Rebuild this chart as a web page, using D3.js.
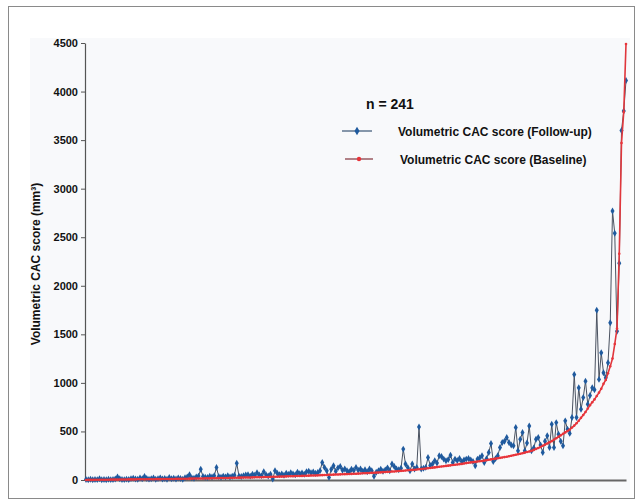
<!DOCTYPE html>
<html>
<head>
<meta charset="utf-8">
<script src="https://cdn.jsdelivr.net/npm/d3@7"></script>
<style>
  body { margin: 0; background: #fff; }
  text { font-family: "Liberation Sans", Arial, sans-serif; font-weight: bold; fill: #111; }
</style>
</head>
<body>
<div id="chart-area"></div>
<script>
var width = 641;
var height = 502;

// patients sorted by baseline score (index 0..240)
var baseline = [
  0, 1, 1, 1, 2, 2, 2, 3, 3, 3,
  3, 4, 4, 4, 4, 5, 5, 5, 5, 6,
  6, 6, 6, 7, 7, 7, 7, 8, 8, 8,
  8, 9, 9, 9, 10, 10, 10, 11, 11, 11,
  12, 12, 12, 13, 13, 13, 14, 14, 15, 15,
  15, 16, 16, 17, 17, 17, 18, 18, 19, 19,
  20, 20, 21, 21, 22, 22, 23, 23, 24, 24,
  25, 25, 26, 26, 27, 28, 28, 29, 29, 30,
  31, 31, 32, 33, 33, 34, 35, 35, 36, 37,
  38, 38, 39, 40, 41, 41, 42, 43, 44, 45,
  46, 46, 47, 48, 49, 50, 51, 52, 53, 54,
  55, 56, 57, 58, 59, 60, 61, 62, 63, 64,
  65, 66, 67, 69, 70, 71, 72, 74, 75, 76,
  78, 79, 81, 82, 84, 85, 87, 88, 90, 92,
  94, 96, 98, 100, 102, 104, 106, 108, 111, 113,
  116, 118, 121, 124, 127, 130, 133, 136, 139, 142,
  145, 148, 151, 154, 157, 160, 163, 166, 170, 174,
  178, 181, 184, 187, 190, 193, 196, 200, 204, 208,
  212, 216, 220, 224, 228, 232, 236, 240, 245, 250,
  255, 260, 265, 270, 276, 282, 288, 294, 300, 310,
  320, 330, 340, 352, 364, 376, 388, 400, 415, 430,
  445, 460, 475, 490, 505, 520, 540, 560, 585, 610,
  640, 670, 700, 735, 770, 800, 830, 865, 900, 940,
  990, 1030, 1100, 1172, 1250, 1400, 1560, 2330, 3470, 3790,
  4490
];

var followUp = [
  5, 3, 8, 2, 6, 4, 12, 3, 5, 2,
  8, 4, 6, 10, 30, 12, 6, 4, 9, 5,
  14, 18, 10, 7, 20, 12, 35, 15, 9, 12,
  20, 8, 14, 22, 10, 16, 8, 25, 12, 18,
  10, 20, 15, 8, 24, 30, 55, 22, 18, 30,
  40, 110, 35, 28, 25, 38, 30, 45, 130, 35,
  28, 40, 32, 45, 30, 38, 50, 172, 40, 35,
  45, 52, 55, 40, 60, 48, 75, 52, 45, 85,
  55, 42, 60, 10, 95, 70, 55, 62, 48, 70,
  58, 75, 62, 55, 80, 65, 72, 60, 85, 90,
  75, 82, 70, 78, 95, 181, 130, 95, 27, 110,
  147, 90, 125, 140, 100, 113, 95, 85, 110, 98,
  130, 100, 113, 90, 106, 85, 113, 95, 38, 80,
  96, 110, 90, 103, 125, 95, 164, 140, 113, 105,
  120, 318, 164, 130, 96, 164, 113, 130, 547, 113,
  120, 130, 232, 150, 164, 198, 175, 250, 243, 215,
  198, 210, 256, 181, 215, 200, 222, 190, 205, 215,
  222, 205, 190, 147, 215, 230, 250, 181, 220, 284,
  376, 191, 220, 250, 335, 386, 400, 438, 386, 360,
  352, 540, 300, 420, 489, 300, 380, 557, 300, 330,
  420, 438, 360, 284, 400, 455, 335, 574, 335, 591,
  472, 400, 352, 609, 523, 480, 643, 1087, 643, 950,
  728, 850, 1018, 779, 870, 950, 930, 1747, 1036, 1310,
  1105, 1053, 1207, 1620, 2769, 2540, 1531, 2233, 3600, 3800,
  4113
];

var yTicks = [0, 500, 1000, 1500, 2000, 2500, 3000, 3500, 4000, 4500];
var seriesNames = ["Volumetric CAC score (Follow-up)", "Volumetric CAC score (Baseline)"];
var nLabel = "n = 241";

var svg = d3.select("#chart-area")
  .append("svg")
    .attr("width", width)
    .attr("height", height);

// frame
svg.append("rect")
  .attr("x", 8.5).attr("y", 6.5)
  .attr("width", 626).attr("height", 492)
  .attr("fill", "#fff")
  .attr("stroke", "#8a8a8a");

// faint plot backdrop
svg.append("rect")
  .attr("x", 30).attr("y", 38)
  .attr("width", 600).attr("height", 452)
  .attr("fill", "#f8f9fb");

var x = d3.scaleLinear().domain([0, baseline.length - 1]).range([86, 626]);
var y = d3.scaleLinear().domain([0, 4500]).range([480, 43]);

var leftAxis = d3.axisLeft(y).tickValues(yTicks).tickFormat(d3.format("d"))
  .tickSize(4).tickSizeOuter(0).tickPadding(3);
var yAxisGroup = svg.append("g")
  .attr("transform", "translate(85, 0)")
  .call(leftAxis);
yAxisGroup.select(".domain").attr("stroke", "#555").attr("stroke-width", 1.2);
yAxisGroup.selectAll(".tick line").attr("stroke", "#555");
yAxisGroup.selectAll(".tick text")
  .attr("font-size", "11px")
  .attr("font-weight", "bold")
  .attr("font-family", "Liberation Sans, Arial, sans-serif")
  .attr("fill", "#111");

var bottomAxis = d3.axisBottom(x).tickValues([]).tickSizeOuter(0);
var xAxisGroup = svg.append("g")
  .attr("transform", "translate(0, " + y(0) + ")")
  .call(bottomAxis);
xAxisGroup.select(".domain").attr("stroke", "#666").attr("stroke-width", 2);

svg.append("text")
  .attr("x", -264)
  .attr("y", 40)
  .attr("font-size", "12px")
  .attr("text-anchor", "middle")
  .attr("transform", "rotate(-90)")
  .text("Volumetric CAC score (mm³)");

var line = d3.line()
  .x(function(d, i) { return x(i); })
  .y(function(d) { return y(d); });

var diamond = d3.symbol().type(d3.symbolDiamond).size(14);

// follow-up series
svg.append("path")
  .datum(followUp)
  .attr("fill", "none")
  .attr("stroke", "#4a5260")
  .attr("stroke-width", 1)
  .attr("d", line);

svg.selectAll(".fu")
  .data(followUp)
  .enter().append("path")
  .attr("class", "fu")
  .attr("transform", function(d, i) { return "translate(" + x(i) + "," + y(d) + ")"; })
  .attr("d", diamond)
  .attr("fill", "#1f5a9e");

// baseline series
svg.append("path")
  .datum(baseline)
  .attr("fill", "none")
  .attr("stroke", "#e0363c")
  .attr("stroke-width", 1.6)
  .attr("d", line);

svg.selectAll(".bl")
  .data(baseline)
  .enter().append("circle")
  .attr("class", "bl")
  .attr("cx", function(d, i) { return x(i); })
  .attr("cy", function(d) { return y(d); })
  .attr("r", 1.3)
  .attr("fill", "#e8343a");

// legend
svg.append("text")
  .attr("x", 366).attr("y", 109)
  .attr("font-size", "14px")
  .text(nLabel);

var legend = svg.append("g");
var legendRows = [
  { name: seriesNames[0], lineColor: "#46607e", markColor: "#1f5a9e", y: 131, x0: 342, x1: 372, tx: 398, shape: "diamond" },
  { name: seriesNames[1], lineColor: "#8a4048", markColor: "#e8343a", y: 159, x0: 345, x1: 373, tx: 400, shape: "circle" }
];
legendRows.forEach(function(r) {
  legend.append("line")
    .attr("x1", r.x0).attr("x2", r.x1)
    .attr("y1", r.y).attr("y2", r.y)
    .attr("stroke", r.lineColor)
    .attr("stroke-width", 1.3);
  if (r.shape === "diamond") {
    legend.append("path")
      .attr("transform", "translate(" + (r.x0 + r.x1) / 2 + "," + r.y + ")")
      .attr("d", d3.symbol().type(d3.symbolDiamond).size(22))
      .attr("fill", r.markColor);
  } else {
    legend.append("circle")
      .attr("cx", (r.x0 + r.x1) / 2).attr("cy", r.y).attr("r", 2.2)
      .attr("fill", r.markColor);
  }
  legend.append("text")
    .attr("x", r.tx).attr("y", r.y + 4.5)
    .attr("font-size", "12px")
    .text(r.name);
});
</script>
</body>
</html>
